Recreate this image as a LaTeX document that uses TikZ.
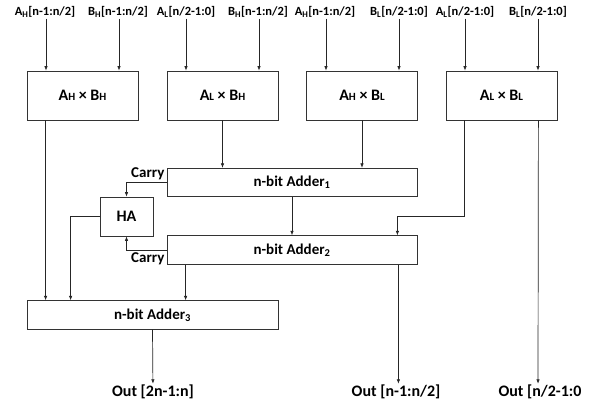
\documentclass[tikz,border=0pt]{standalone}
\usepackage{fontspec}
\setmainfont{Carlito}
\usetikzlibrary{arrows.meta}

\newcommand{\sm}[1]{{\fontsize{11}{12}\selectfont #1}}

\begin{document}
\begin{tikzpicture}[x=1pt,y=-1pt,
  every node/.style={inner sep=1pt,font=\fontsize{15}{17}\selectfont\bfseries},
  inlabel/.style={font=\fontsize{12.5}{14}\selectfont\bfseries},
  outlabel/.style={font=\fontsize{16}{18}\selectfont\bfseries},
  block/.style={draw=black!80,line width=0.8pt,rectangle,inner sep=0pt},
  mult/.style={block,minimum width=111pt,minimum height=49pt,font=\fontsize{16}{18}\selectfont\bfseries},
  adder/.style={block,minimum width=250pt,minimum height=28.5pt},
  wire/.style={draw=black!85,line width=0.7pt,-{Latex[length=4.5pt,width=3.5pt]}}]
\useasboundingbox (0,0) rectangle (593,404);

% inputs
\node[inlabel] (inAH1) at (45,12) {A\textsubscript{H}[n-1:n/2]};
\node[inlabel] (inBH1) at (118,12) {B\textsubscript{H}[n-1:n/2]};
\node[inlabel] (inAL1) at (186,12) {A\textsubscript{L}[n/2-1:0]};
\node[inlabel] (inBH2) at (258,12) {B\textsubscript{H}[n-1:n/2]};
\node[inlabel] (inAH2) at (325,12) {A\textsubscript{H}[n-1:n/2]};
\node[inlabel] (inBL1) at (399,12) {B\textsubscript{L}[n/2-1:0]};
\node[inlabel] (inAL2) at (465,12) {A\textsubscript{L}[n/2-1:0]};
\node[inlabel] (inBL2) at (538,12) {B\textsubscript{L}[n/2-1:0]};

% multipliers
\node[mult] (mulHH) at (82.5,95.5) {A\sm{H} × B\sm{H}};
\node[mult] (mulLH) at (222.5,95.5) {A\sm{L} × B\sm{H}};
\node[mult] (mulHL) at (362,95.5) {A\sm{H} × B\sm{L}};
\node[mult] (mulLL) at (501.5,95.5) {A\sm{L} × B\sm{L}};

% adders
\node[adder] (add1) at (292,182.5) {n-bit Adder\textsubscript{1}};
\node[adder] (add2) at (292,250) {n-bit Adder\textsubscript{2}};
\node[block,minimum width=53pt,minimum height=39pt,font=\fontsize{16}{18}\selectfont\bfseries] (ha) at (126.5,216.5) {HA};
\node[adder,minimum width=251pt] (add3) at (152.5,315) {n-bit Adder\textsubscript{3}};

\node[anchor=south east,inner sep=2pt] (carry1) at (add1.west) {Carry};
\node[anchor=north east,inner sep=2pt] (carry2) at (add2.west) {Carry};

% outputs
\node[outlabel] (out1) at (153,392) {Out [2n-1:n]};
\node[outlabel] (out2) at (396,392) {Out [n-1:n/2]};
\node[outlabel] (out3) at (540,392) {Out [n/2-1:0};

\draw[wire] (inAH1.south -| 46,0) -- (46,0 |- mulHH.north);
\draw[wire] (inBH1.south -| 119,0) -- (119,0 |- mulHH.north);
\draw[wire] (inAL1) -- (inAL1 |- mulLH.north);
\draw[wire] (inBH2.south -| 259,0) -- (259,0 |- mulLH.north);
\draw[wire] (inAH2.south -| 326,0) -- (326,0 |- mulHL.north);
\draw[wire] (inBL1) -- (inBL1 |- mulHL.north);
\draw[wire] (inAL2) -- (inAL2 |- mulLL.north);
\draw[wire] (inBL2) -- (inBL2 |- mulLL.north);

\draw[wire] ([xshift=19pt]mulHH.south west) -- ([xshift=19pt]add3.north west);
\draw[wire] (mulLH.south) -- (mulLH.south |- add1.north);
\draw[wire] (mulHL.south) -- (mulHL.south |- add1.north);
\draw[wire] ([xshift=19pt]mulLL.south west) -- ++(0,96) -| ([xshift=-20pt]add2.north east);
\draw[wire] ([xshift=-19pt]mulLL.south east) -- ([xshift=-2pt]out3.north);

\draw[wire] (add1.south) -- (add2.north);
\draw[wire] (add1.west) -| (ha.north);
\draw[wire] (add2.west) -| (ha.south);
\draw[wire] (ha.west) -| ([xshift=44pt]add3.north west);
\draw[wire] ([xshift=19pt]add2.south west) -- ([xshift=19pt]add2.south west |- add3.north);
\draw[wire] ([xshift=-19pt]add2.south east) -- ([xshift=-19pt]add2.south east |- out2.north);
\draw[wire] (add3.south) -- (out1);
\end{tikzpicture}
\end{document}
